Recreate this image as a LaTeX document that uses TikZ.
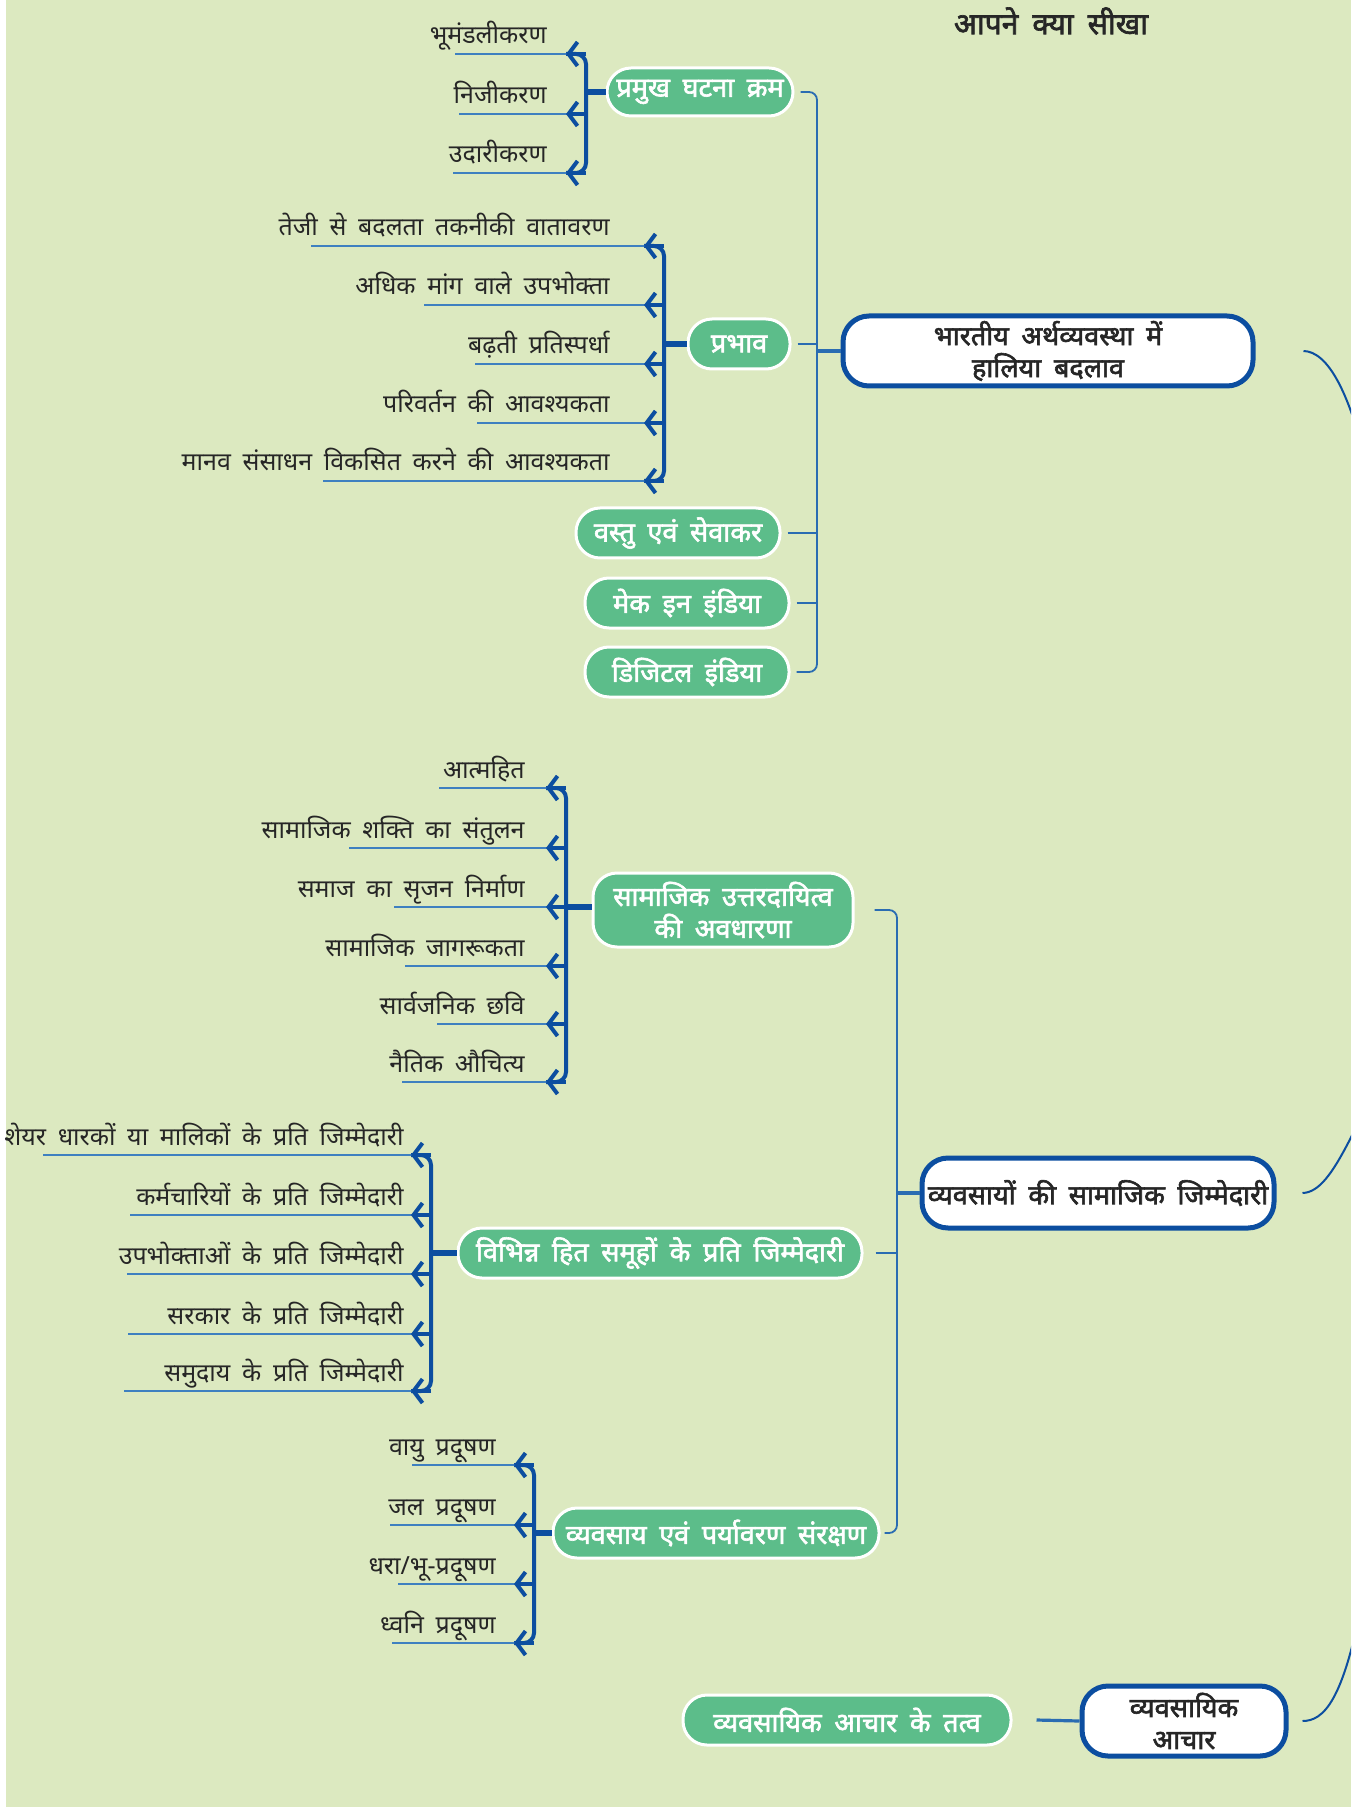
\documentclass[tikz,border=0pt]{standalone}
\usepackage{fontspec}
\setmainfont{Noto Sans}[Script=Devanagari,WordSpace=1.8]
\newfontfamily\hindibold{Noto Sans}[Script=Devanagari,FakeBold=2.2,WordSpace=1.8]
\usepackage{tikz}
\usetikzlibrary{arrows.meta,positioning}

\definecolor{bgcol}{RGB}{220,233,192}
\definecolor{nodegreen}{RGB}{92,189,138}
\definecolor{linkblue}{RGB}{42,108,178}
\definecolor{darkblue}{RGB}{12,78,160}
\definecolor{leafblue}{RGB}{62,128,192}

\begin{document}
\begin{tikzpicture}[x=0.5pt,y=-0.5pt,
    gbox/.style={rectangle,rounded corners=12pt,fill=nodegreen,draw=white,line width=1.5pt,
        text=white,font=\hindibold\fontsize{13.5}{16}\selectfont,minimum height=24pt,inner sep=3pt,align=center},
    mainbox/.style={rectangle,rounded corners=13pt,fill=white,draw=darkblue,line width=2.5pt,
        text=black!85,font=\hindibold\fontsize{13.5}{16}\selectfont,minimum height=35pt,inner sep=1pt,align=center},
    leaf/.style={anchor=base east,inner sep=1pt,text=black!85,font=\fontsize{12.5}{15}\selectfont},
    leafline/.style={draw=leafblue,line width=1.2pt},
    bracket/.style={draw=darkblue,line width=2pt,rounded corners=5pt},
    barb/.style={draw=darkblue,line width=2pt,-{Straight Barb[length=4.5pt,width=12pt]}},
    stub/.style={draw=darkblue,line width=3pt},
    trunk/.style={draw=linkblue,line width=0.9pt,rounded corners=4pt},
    curve/.style={draw=darkblue,line width=1pt}]
    \useasboundingbox (0,0) rectangle (1351,1807);
    \fill[white] (0,0) rectangle (1351,1807);
    \fill[bgcol] (6,0) rectangle (1351,1807);
    \node[font=\hindibold\fontsize{15}{18}\selectfont,text=black!85] (ttl) at (1051,21) {आपने क्या सीखा};

    % part 1
    \node[mainbox,minimum width=205pt] (mA) at (1048,351) {भारतीय अर्थव्यवस्था में\\हालिया बदलाव};
    \node[gbox,minimum width=93pt] (gA1) at (700,92) {प्रमुख घटना क्रम};
    \node[gbox,minimum width=51pt,minimum height=25pt] (gA2) at (739,344) {प्रभाव};
    \node[gbox,minimum width=102pt,minimum height=25pt] (gA3) at (678,533) {वस्तु एवं सेवाकर};
    \node[gbox,minimum width=102pt,minimum height=25pt] (gA4) at (687,603) {मेक इन इंडिया};
    \node[gbox,minimum width=102pt,minimum height=25pt] (gA5) at (687,672) {डिजिटल इंडिया};
    \coordinate (tAtop) at (817,92);
    \coordinate (tAbot) at (817,672);
    \draw[trunk] ([xshift=3pt]gA1.east) -- (tAtop) -- (tAbot) -- ([xshift=3pt]gA5.east);
    \foreach \n in {gA2,gA3,gA4}
        \draw[trunk] ([xshift=3pt]\n.east) -- (\n.east -| tAtop);
    \draw[trunk,line width=1.6pt] (mA.west -| tAtop) -- (mA.west);
    % leaves of gA1
    \coordinate (bA1) at (586,92);
    \draw[bracket] (566,54) -- (586,54) -- (586,173) -- (566,173);
    \draw[stub] (gA1.west) -- (gA1.west -| bA1);
    \foreach \y/\lx/\txt [count=\i] in {54/455/भूमंडलीकरण, 114/459/निजीकरण, 173/453/उदारीकरण}{
        \node[leaf] (lA1-\i) at (549,\y-10) {\txt};
        \coordinate (sA1-\i) at (\lx,\y);
        \coordinate (jA1-\i) at (586,\y);
        \draw[leafline] (sA1-\i) -- (jA1-\i);
        \draw[barb] (jA1-\i) -- ++(-20,0);
    }
    % leaves of gA2
    \coordinate (bA2) at (664,344);
    \draw[bracket] (644,246) -- (664,246) -- (664,481) -- (644,481);
    \draw[stub] (gA2.west) -- (gA2.west -| bA2);
    \foreach \y/\lx/\txt [count=\i] in {246/311/तेजी से बदलता तकनीकी वातावरण, 305/424/अधिक मांग वाले उपभोक्ता,
        364/475/बढ़ती प्रतिस्पर्धा, 423/477/परिवर्तन की आवश्यकता, 481/323/मानव संसाधन विकसित करने की आवश्यकता}{
        \node[leaf] (lA2-\i) at (612,\y-10) {\txt};
        \coordinate (sA2-\i) at (\lx,\y);
        \coordinate (jA2-\i) at (664,\y);
        \draw[leafline] (sA2-\i) -- (jA2-\i);
        \draw[barb] (jA2-\i) -- ++(-20,0);
    }

    % part 2
    \node[mainbox,minimum width=176pt] (mB) at (1098,1193) {व्यवसायों की सामाजिक जिम्मेदारी};
    \node[gbox,minimum width=130pt,minimum height=37pt] (gB1) at (723,910) {सामाजिक उत्तरदायित्व\\की अवधारणा};
    \node[gbox,minimum width=202pt,minimum height=25pt] (gB2) at (660,1253) {विभिन्न हित समूहों के प्रति जिम्मेदारी};
    \node[gbox,minimum width=163pt,minimum height=25pt] (gB3) at (716,1533) {व्यवसाय एवं पर्यावरण संरक्षण};
    \coordinate (tBtop) at (897,910);
    \coordinate (tBbot) at (897,1533);
    \draw[trunk] ([xshift=10pt]gB1.east) -- (tBtop) -- (tBbot) -- ([xshift=2pt]gB3.east);
    \draw[trunk] ([xshift=6pt]gB2.east) -- (gB2.east -| tBtop);
    \draw[trunk,line width=1.6pt] (mB.west -| tBtop) -- (mB.west);
    % leaves of gB1
    \coordinate (bB1) at (566,907);
    \draw[bracket] (546,788) -- (566,788) -- (566,1082) -- (546,1082);
    \draw[stub] (gB1.west |- bB1) -- (bB1);
    \foreach \y/\lx/\txt [count=\i] in {788/439/आत्महित, 848/349/सामाजिक शक्ति का संतुलन, 907/394/समाज का सृजन निर्माण,
        966/405/सामाजिक जागरूकता, 1024/437/सार्वजनिक छवि, 1082/402/नैतिक औचित्य}{
        \node[leaf] (lB1-\i) at (527,\y-10) {\txt};
        \coordinate (sB1-\i) at (\lx,\y);
        \coordinate (jB1-\i) at (566,\y);
        \draw[leafline] (sB1-\i) -- (jB1-\i);
        \draw[barb] (jB1-\i) -- ++(-20,0);
    }
    % leaves of gB2
    \coordinate (bB2) at (431,1253);
    \draw[bracket] (411,1155) -- (431,1155) -- (431,1391) -- (411,1391);
    \draw[stub] (gB2.west) -- (gB2.west -| bB2);
    \foreach \y/\lx/\txt [count=\i] in {1155/43/शेयर धारकों या मालिकों के प्रति जिम्मेदारी, 1215/130/कर्मचारियों के प्रति जिम्मेदारी,
        1274/127/उपभोक्ताओं के प्रति जिम्मेदारी, 1334/128/सरकार के प्रति जिम्मेदारी, 1391/124/समुदाय के प्रति जिम्मेदारी}{
        \node[leaf] (lB2-\i) at (406,\y-10) {\txt};
        \coordinate (sB2-\i) at (\lx,\y);
        \coordinate (jB2-\i) at (431,\y);
        \draw[leafline] (sB2-\i) -- (jB2-\i);
        \draw[barb] (jB2-\i) -- ++(-20,0);
    }
    % leaves of gB3
    \coordinate (bB3) at (534,1533);
    \draw[bracket] (514,1465) -- (534,1465) -- (534,1643) -- (514,1643);
    \draw[stub] (gB3.west) -- (gB3.west -| bB3);
    \foreach \y/\lx/\txt [count=\i] in {1465/412/वायु प्रदूषण, 1525/390/जल प्रदूषण, 1584/398/{धरा/भू-प्रदूषण}, 1643/392/ध्वनि प्रदूषण}{
        \node[leaf] (lB3-\i) at (498,\y-10) {\txt};
        \coordinate (sB3-\i) at (\lx,\y);
        \coordinate (jB3-\i) at (534,\y);
        \draw[leafline] (sB3-\i) -- (jB3-\i);
        \draw[barb] (jB3-\i) -- ++(-20,0);
    }

    % part 3
    \node[mainbox,minimum width=102pt] (mC) at (1184,1721) {व्यवसायिक\\आचार};
    \node[gbox,minimum width=164pt,minimum height=25pt] (gC1) at (847,1720) {व्यवसायिक आचार के तत्व};
    \draw[trunk,line width=1.6pt] ([xshift=12pt]gC1.east) -- (mC.west);

    % links to the root, off the page
    \begin{scope}
        \clip (0,0) rectangle (1351,1807);
        \coordinate (root) at (1420,1000);
        \draw[curve] ([xshift=24pt]mA.east) .. controls (1350,352) and (1400,500) .. (root);
        \draw[curve] ([xshift=13pt]mB.east) .. controls (1335,1192) and (1355,1120) .. (root);
        \draw[curve] ([xshift=7pt]mC.east) .. controls (1345,1721) and (1380,1640) .. (root);
    \end{scope}
\end{tikzpicture}
\end{document}
